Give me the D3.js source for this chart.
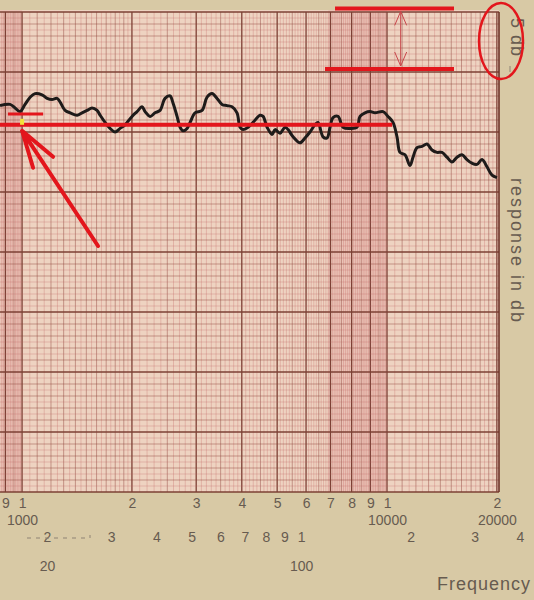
<!DOCTYPE html>
<html>
<head>
<meta charset="utf-8">
<script src="https://cdn.jsdelivr.net/npm/d3@7"></script>
<style>
  html, body { margin: 0; padding: 0; background: #d8c9a5; }
  svg { display: block; }
  .lbl { font-family: "Liberation Sans", Arial, sans-serif; fill: #675b50; }
</style>
</head>
<body>
<svg id="chart" width="534" height="600"></svg>
<script>
// traced response curve, frequency in Hz and level in dB (paper scale 0..40)
var freqHz = [870, 927, 957, 987, 1019, 1052, 1085, 1134, 1171, 1208, 1247, 1271, 1312, 1354, 1415,
  1460, 1507, 1555, 1605, 1636, 1688, 1742, 1798, 1856, 1915, 2001, 2066, 2132, 2173, 2243, 2314,
  2388, 2465, 2544, 2593, 2659, 2710, 2762, 2833, 2887, 2979, 3113, 3213, 3316, 3422, 3531, 3644,
  3761, 3881, 3956, 4032, 4161, 4295, 4489, 4575, 4692, 4842, 4934, 5092, 5255, 5356, 5527, 5775,
  5960, 6151, 6348, 6471, 6678, 6849, 6980, 7114, 7342, 7577, 7916, 8276, 8434, 8704, 8982, 9271,
  9750, 10063, 10385, 10651, 10854, 11202, 11561, 11782, 12083, 12470, 12870, 13282, 13708, 14147,
  14600, 15068, 15551, 16049, 16563, 17094, 17641, 18207, 18790, 19392, 20013];
var respDb = [32.2, 32.3, 32.0, 31.7, 32.3, 32.9, 33.2, 33.1, 32.8, 32.7, 32.8, 32.5, 31.8, 31.6, 31.4,
  31.6, 31.8, 32.0, 31.8, 31.4, 30.8, 30.3, 30.0, 30.3, 30.6, 31.3, 31.7, 32.1, 31.7, 31.3, 31.6,
  31.8, 32.8, 33.0, 32.4, 31.3, 30.4, 30.1, 30.3, 30.8, 31.6, 31.8, 32.9, 33.2, 32.8, 32.3, 32.2,
  32.1, 31.6, 30.4, 30.2, 30.4, 30.8, 31.4, 31.3, 30.4, 29.8, 30.2, 29.9, 30.4, 30.2, 29.6, 29.1,
  29.5, 30.0, 30.6, 30.8, 29.6, 29.5, 30.4, 31.2, 31.3, 30.4, 30.3, 30.4, 31.3, 31.6, 31.7, 31.6,
  31.7, 31.3, 30.8, 29.6, 28.3, 28.1, 27.2, 27.9, 28.7, 28.8, 29.0, 28.5, 28.3, 28.3,
  27.9, 27.5, 27.9, 28.1, 27.7, 27.4, 27.3, 27.7, 27.1, 26.4, 26.2];

// printed scale labels under the paper
var mainTickValues = [900, 1000, 2000, 3000, 4000, 5000, 6000, 7000, 8000, 9000, 10000, 20000];
var mainTickText = ["9", "1", "2", "3", "4", "5", "6", "7", "8", "9", "1", "2"];
var mainDecadeValues = [1000, 10000, 20000];
var lowTickValues = [20, 30, 40, 50, 60, 70, 80, 90, 100, 200, 300, 400];
var lowTickText = ["2", "3", "4", "5", "6", "7", "8", "9", "1", "2", "3", "4"];
var lowDecadeValues = [20, 100];

// red pen marks drawn over the recording
var refLineFreq = [870, 10330], refLineDb = 30.6;
var shortLineFreq = [915, 1142], shortLineDb = 31.5;
var markFreq = 1000, markDb = [31.1, 30.6];
var bracketTopFreq = [7203, 15260], bracketTopDb = 40.3;
var bracketLowFreq = [6761, 15260], bracketLowDb = 35.25;
var bracketArrowFreq = 10900;
var arrowFrom = [1615, 20.5], arrowTo = [1000, 30.1];

function drawRecording() {
  var svg = d3.select("#chart"),
      paper = {left: 0, right: 499, top: 10, bottom: 492};

  var x = d3.scaleLog().domain([870, 20270]).range([0, 499]),
      y = d3.scaleLinear().domain([0, 40]).range([492, 12]),
      xLow = d3.scaleLog().domain([20, 400]).range([47, 520]);

  // paper
  svg.append("rect")
    .attr("x", paper.left).attr("y", paper.top)
    .attr("width", paper.right - paper.left).attr("height", paper.bottom - paper.top)
    .attr("fill", "#eed3c1");

  // pinker tint where the printed lines crowd together
  [[870, 1000], [6900, 10000]].forEach(function(b) {
    svg.append("rect")
      .attr("x", x(b[0])).attr("y", paper.top)
      .attr("width", x(b[1]) - x(b[0])).attr("height", paper.bottom - paper.top)
      .attr("fill", "#d9707c").attr("opacity", 0.16);
  });

  // vertical grid lines of the log paper
  var vLines = [];
  [100, 1000, 10000].forEach(function(dec) {
    for (var k = 20; k < 200; k++) {
      var m = k / 20, step;
      if (m < 2) step = 1; else step = 2;
      if (k % step) continue;
      var f = dec * m;
      if (f < 870 || f > 20270) continue;
      var kind = "fine";
      if (k % 20 === 0) kind = "major";
      else if (m < 2 && k % 2 === 0) kind = "mid";
      else if (m >= 2 && k % 10 === 0) kind = "mid";
      vLines.push({f: f, kind: kind});
    }
  });

  var hLines = [];
  for (var i = 0; i <= 80; i++) {
    hLines.push({db: i / 2, kind: i % 10 === 0 ? "major" : (i % 2 === 0 ? "mid" : "fine")});
  }

  var stroke = {fine: "rgba(190,90,90,0.45)", mid: "rgba(140,60,52,0.55)", major: "#7d4035"},
      sw = {fine: 0.6, mid: 0.8, major: 1.3};

  var grid = svg.append("g").attr("class", "grid");

  grid.selectAll(".v")
    .data(vLines)
    .enter().append("line")
      .attr("x1", function(d) { return x(d.f); })
      .attr("x2", function(d) { return x(d.f); })
      .attr("y1", y(40)).attr("y2", y(0))
      .attr("stroke", function(d) { return stroke[d.kind]; })
      .attr("stroke-width", function(d) { return sw[d.kind]; });

  grid.selectAll(".h")
    .data(hLines)
    .enter().append("line")
      .attr("x1", paper.left).attr("x2", paper.right)
      .attr("y1", function(d) { return y(d.db); })
      .attr("y2", function(d) { return y(d.db); })
      .attr("stroke", function(d) { return stroke[d.kind]; })
      .attr("stroke-width", function(d) { return sw[d.kind]; });

  // paper border on the right
  svg.append("line")
    .attr("x1", paper.right).attr("x2", paper.right)
    .attr("y1", y(40)).attr("y2", y(0))
    .attr("stroke", "#6e3329").attr("stroke-width", 1.6);

  // printed frequency scales
  function scaleRow(scale, values, text, top, size) {
    var g = svg.append("g")
      .attr("transform", "translate(0," + top + ")")
      .call(d3.axisBottom(scale).tickValues(values).tickSize(0).tickPadding(6)
        .tickFormat(function(d, i) { return text[i]; }));
    g.select(".domain").remove();
    g.selectAll("text")
      .attr("class", "lbl")
      .attr("font-size", size);
  }
  scaleRow(x, mainTickValues, mainTickText, 492, 14);
  scaleRow(x, mainDecadeValues, mainDecadeValues.map(String), 509, 14);
  scaleRow(xLow, lowTickValues, lowTickText, 526, 14);
  scaleRow(xLow, lowDecadeValues, lowDecadeValues.map(String), 555, 14);

  svg.append("path")
    .attr("d", "M27,538H90V535")
    .attr("fill", "none")
    .attr("stroke", "#8f8374").attr("stroke-width", 1)
    .attr("stroke-dasharray", "4,5");

  svg.append("text")
    .attr("class", "lbl")
    .attr("x", 437).attr("y", 590)
    .attr("font-size", 18)
    .attr("letter-spacing", 1)
    .text("Frequency");

  svg.append("text")
    .attr("class", "lbl")
    .attr("transform", "translate(511,178) rotate(90)")
    .attr("font-size", 18)
    .attr("letter-spacing", 2)
    .text("response in db");

  svg.append("text")
    .attr("class", "lbl")
    .attr("transform", "translate(511,18) rotate(90)")
    .attr("font-size", 18)
    .attr("letter-spacing", 1)
    .text("5 db");

  svg.append("line")
    .attr("x1", 510).attr("x2", 510).attr("y1", 66).attr("y2", 72)
    .attr("stroke", "#8f8374").attr("stroke-width", 1);

  // recorded response
  var line = d3.line()
    .x(function(d) { return x(d[0]); })
    .y(function(d) { return y(d[1]); })
    .curve(d3.curveCatmullRom);

  svg.append("path")
    .datum(d3.zip(freqHz, respDb))
    .attr("fill", "none")
    .attr("stroke", "#1e1b1a")
    .attr("stroke-width", 3)
    .attr("stroke-linejoin", "round")
    .attr("d", line);

  // red pen annotations
  var red = "#e3161c";
  function hBar(fr, db, w) {
    svg.append("line")
      .attr("x1", x(fr[0])).attr("x2", x(fr[1]))
      .attr("y1", y(db)).attr("y2", y(db))
      .attr("stroke", red).attr("stroke-width", w);
  }
  hBar(refLineFreq, refLineDb, 4);
  hBar(shortLineFreq, shortLineDb, 3);
  hBar(bracketTopFreq, bracketTopDb, 4);
  hBar(bracketLowFreq, bracketLowDb, 4);

  svg.append("line")
    .attr("x1", x(markFreq)).attr("x2", x(markFreq))
    .attr("y1", y(markDb[0])).attr("y2", y(markDb[1]))
    .attr("stroke", "#f2e23a").attr("stroke-width", 4);

  // thin double arrow between the bracket lines
  var ax = x(bracketArrowFreq), at = y(bracketTopDb) + 3, ab = y(bracketLowDb) - 3;
  svg.append("path")
    .attr("d", "M" + ax + "," + at + "V" + ab +
      "M" + (ax - 6) + "," + (at + 14) + "L" + ax + "," + at + "L" + (ax + 6) + "," + (at + 14) +
      "M" + (ax - 6) + "," + (ab - 14) + "L" + ax + "," + ab + "L" + (ax + 6) + "," + (ab - 14))
    .attr("fill", "none")
    .attr("stroke", "#c8454a").attr("stroke-width", 1);

  // pointer arrow to the 1 kHz mark
  var p0 = [x(arrowFrom[0]), y(arrowFrom[1])], p1 = [x(arrowTo[0]), y(arrowTo[1])];
  svg.append("path")
    .attr("d", "M" + p0 + "L" + p1 +
      "M" + (p1[0] + 11) + "," + (p1[1] + 37) + "L" + p1 + "L" + (p1[0] + 31) + "," + (p1[1] + 26))
    .attr("fill", "none")
    .attr("stroke", red).attr("stroke-width", 4)
    .attr("stroke-linecap", "round").attr("stroke-linejoin", "round");

  // ring around the scale note
  svg.append("ellipse")
    .attr("cx", 501).attr("cy", 41).attr("rx", 22).attr("ry", 38)
    .attr("fill", "none")
    .attr("stroke", red).attr("stroke-width", 2.5);
}

drawRecording();
</script>
</body>
</html>
